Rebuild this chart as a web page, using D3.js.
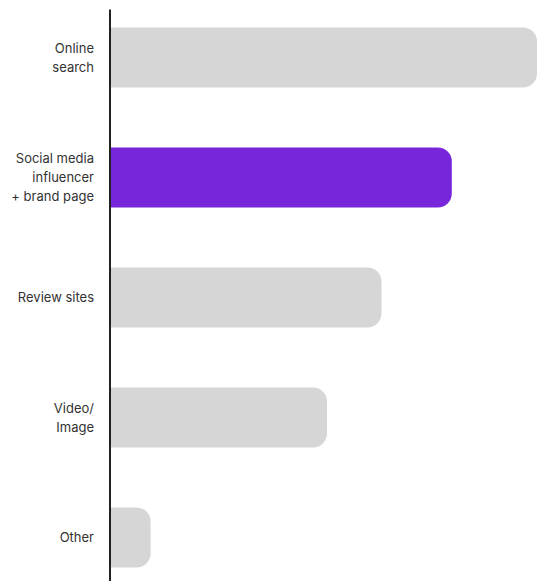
<!DOCTYPE html>
<html>
<head>
<meta charset="utf-8">
<script src="https://cdn.jsdelivr.net/npm/d3@7"></script>
<style>
  body { margin: 0; background: #fff; }
  svg { display: block; }
</style>
</head>
<body>
<svg id="svg" width="544" height="581"></svg>
<script>
const categories = ["Online search", "Social media influencer + brand page", "Review sites", "Video/Image", "Other"];
const labelLines = [["Online", "search"], ["Social media", "influencer", "+ brand page"], ["Review sites"], ["Video/", "Image"], ["Other"]];
const values = [43, 34.4, 27.3, 21.8, 4];
const highlight = "Social media influencer + brand page";

const axisX = 110;
const radius = 14;
const lineH = 19;

const svg = d3.select("#svg");

const x = d3.scaleLinear().domain([0, 43]).range([axisX + 1, 537]);
const y = d3.scaleBand()
  .domain(categories)
  .range([9.5, 585.5])
  .paddingInner(0.5)
  .paddingOuter(0.15);

const barPath = (v, c) => {
  const x0 = x(0), x1 = x(v), y0 = y(c), y1 = y(c) + y.bandwidth();
  const r = Math.min(radius, (x1 - x0) / 2);
  const p = d3.path();
  p.moveTo(x0, y0);
  p.lineTo(x1 - r, y0);
  p.arcTo(x1, y0, x1, y0 + r, r);
  p.lineTo(x1, y1 - r);
  p.arcTo(x1, y1, x1 - r, y1, r);
  p.lineTo(x0, y1);
  p.closePath();
  return p.toString();
};

svg.append("g")
  .selectAll("path")
  .data(categories)
  .join("path")
  .attr("d", (c, i) => barPath(values[i], c))
  .attr("fill", c => (c === highlight ? "#7726da" : "#d6d6d6"));

const labels = svg.append("g")
  .attr("font-family", "Inter, sans-serif")
  .attr("font-size", 13)
  .attr("fill", "#333")
  .attr("text-anchor", "end");

categories.forEach((c, i) => {
  const lines = labelLines[i];
  const cy = y(c) + y.bandwidth() / 2;
  const t = labels.append("text")
    .attr("x", axisX - 16)
    .attr("y", cy - ((lines.length - 1) * lineH) / 2)
    .attr("dy", "0.35em");
  lines.forEach((ln, j) => {
    t.append("tspan")
      .attr("x", axisX - 16)
      .attr("dy", j === 0 ? "0.35em" : lineH)
      .text(ln);
  });
});

svg.append("line")
  .attr("x1", axisX)
  .attr("x2", axisX)
  .attr("y1", y.range()[0])
  .attr("y2", y.range()[1])
  .attr("stroke", "#222")
  .attr("stroke-width", 2);
</script>
</body>
</html>
